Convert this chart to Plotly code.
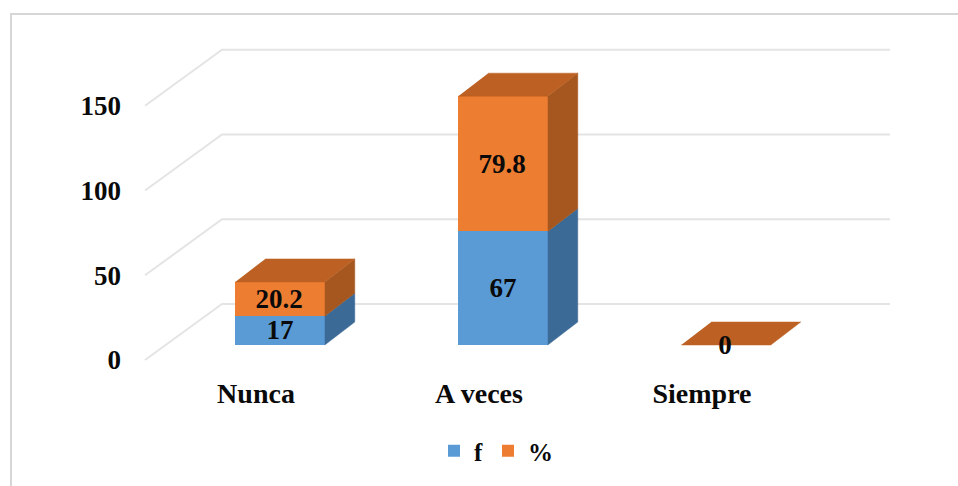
import plotly.graph_objects as go

categories = ["Nunca", "A veces", "Siempre"]
f_values = [17, 67, 0]
pct_values = [20.2, 79.8, 0]
y_ticks = [0, 50, 100, 150]
f_labels = ["17", "67", ""]
pct_labels = ["20.2", "79.8", "0"]

W, H = 958, 486
L, R, T, B = 130, 900, 30, 370
PX_PER_CAT = 223
PX_PER_UNIT = 1.695
X0_PX, Y0_PX = 280, 345

BLUE, ORANGE = "#5B9BD5", "#ED7D31"
BLUE_SIDE, ORANGE_SIDE, ORANGE_TOP = "#3B6A96", "#A5571F", "#BC6123"
GRID, BORDER = "#E4E4E4", "#D6D6D6"
FONT = dict(family="Liberation Serif", size=27, color="#0A0A0A", weight="bold")
XFONT = dict(FONT, size=28)
LEGEND_FONT = dict(FONT, size=25)

cat_w = lambda px: px / PX_PER_CAT
val_h = lambda px: px / PX_PER_UNIT
xr = [cat_w(L - X0_PX), cat_w(R - X0_PX)]
yr = [val_h(Y0_PX - B), val_h(Y0_PX - T)]
paper_x = lambda px: (px - L) / (R - L)
paper_y = lambda px: (B - px) / (B - T)

bar_w = cat_w(89.5)
depth_x, depth_y = cat_w(30), val_h(23)
idx = list(range(len(categories)))

fig = go.Figure()
fig.add_bar(x=idx, y=f_values, name="f", marker=dict(color=BLUE, line_width=0), width=bar_w, hoverinfo="skip")
fig.add_bar(x=idx, y=pct_values, name="%", marker=dict(color=ORANGE, line_width=0), width=bar_w, hoverinfo="skip")


def poly(xs, ys, color):
    fig.add_scatter(x=xs, y=ys, mode="lines", fill="toself", fillcolor=color,
                    line=dict(color=color, width=0.5), showlegend=False, hoverinfo="skip")


for i, a, b in zip(idx, f_values, pct_values):
    r = i + bar_w / 2
    l = i - bar_w / 2
    if a > 0:
        poly([r, r + depth_x, r + depth_x, r], [0, depth_y, a + depth_y, a], BLUE_SIDE)
    if b > 0:
        poly([r, r + depth_x, r + depth_x, r], [a, a + depth_y, a + b + depth_y, a + b], ORANGE_SIDE)
    t = a + b
    poly([l, r, r + depth_x, l + depth_x], [t, t, t + depth_y, t + depth_y], ORANGE_TOP)

# data labels centred in each stacked segment (nudged to the baseline used by the original)
nudge = val_h(-2)
fig.add_scatter(x=idx, y=[a / 2 + nudge for a in f_values], text=f_labels, mode="text",
                textfont=FONT, textposition="middle center", showlegend=False, hoverinfo="skip")
fig.add_scatter(x=[i - cat_w(1) for i in idx], y=[a + b / 2 + nudge for a, b in zip(f_values, pct_values)],
                text=pct_labels, mode="text",
                textfont=FONT, textposition="middle center", showlegend=False, hoverinfo="skip")

# 3-D wall/floor grid: front edge on the axis plane, back edge on the wall
front_dy, back_dy = val_h(-15), val_h(41)
grid_l_front, grid_l_back, grid_r = cat_w(145 - X0_PX), cat_w(222 - X0_PX), cat_w(890 - X0_PX)
shapes = []
for v in y_ticks:
    shapes.append(dict(type="path", layer="below", line=dict(color=GRID, width=2),
                       path=f"M{grid_l_front},{v + front_dy} L{grid_l_back},{v + back_dy} L{grid_r},{v + back_dy}",
                       xref="x", yref="y"))
# outer chart frame (top and left edges only)
shapes.append(dict(type="path", layer="below", line=dict(color=BORDER, width=2), xref="paper", yref="paper",
                   path=f"M{paper_x(958)},{paper_y(14)} L{paper_x(11)},{paper_y(14)} L{paper_x(11)},{paper_y(486)}"))

fig.update_layout(
    width=W, height=H, margin=dict(l=L, r=W - R, t=T, b=H - B, pad=0, autoexpand=False),
    barmode="stack", plot_bgcolor="white", paper_bgcolor="white",
    shapes=shapes, font=FONT,
    xaxis=dict(range=xr, tickvals=[i - cat_w(24) for i in idx], ticktext=categories, showgrid=False,
               zeroline=False, showline=False, ticks="", tickfont=XFONT, tickangle=0, ticklabelstandoff=4),
    yaxis=dict(range=yr, tickvals=[v + front_dy for v in y_ticks], ticktext=[str(v) for v in y_ticks],
               showgrid=False, zeroline=False, showline=False, ticks="", tickfont=FONT, ticklabelstandoff=8),
    legend=dict(orientation="h", traceorder="normal", x=paper_x(434), xanchor="left", y=paper_y(428), yanchor="top",
                bgcolor="rgba(0,0,0,0)", font=LEGEND_FONT),
)
fig.write_html("out.html", config=dict(displayModeBar=False), post_script="document.body.style.margin='0';")
